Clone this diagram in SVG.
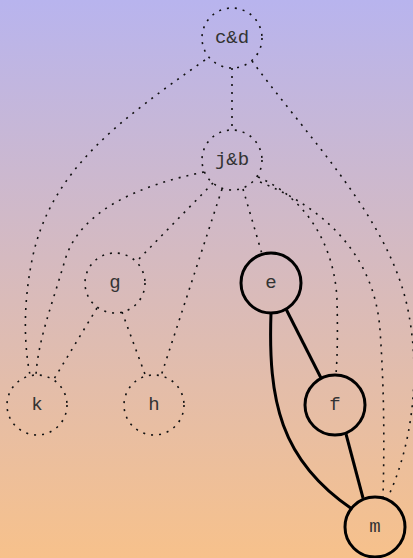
<svg xmlns="http://www.w3.org/2000/svg" width="413" height="558" viewBox="0 0 413 558">
<defs>
<linearGradient id="bg" x1="0" y1="0" x2="0" y2="1">
<stop offset="0" stop-color="#b8b4ee"/>
<stop offset="1" stop-color="#f7c18b"/>
</linearGradient>
<style>
.dn{fill:none;stroke:#111;stroke-width:1.6;stroke-dasharray:2,6}
.sn{fill:none;stroke:#000;stroke-width:3}
.de{fill:none;stroke:#111;stroke-width:1.6;stroke-dasharray:2,6}
.se{fill:none;stroke:#000;stroke-width:3}
text{font-family:"Liberation Mono","Courier New",monospace;font-size:19px;fill:#333;text-anchor:middle;dominant-baseline:central}
</style>
</defs>
<rect width="413" height="558" fill="url(#bg)"/>
<g id="edges">
<path class="de" d="M232,68 L232,130"/>
<path class="de" d="M205,60 C120,120 50,170 32,260 C22,310 25,350 30,375"/>
<path class="de" d="M252,61 C310,140 390,220 408,310 C422,380 410,450 388,497"/>
<path class="de" d="M204,172 C140,185 80,210 65,260 C52,305 38,340 36,375"/>
<path class="de" d="M213,183 L136,262"/>
<path class="de" d="M222,189 L161,376"/>
<path class="de" d="M243,189 L262,254"/>
<path class="de" d="M258,177 C310,200 335,250 337,300 C338,340 337,360 336,375"/>
<path class="de" d="M260,182 C330,210 375,260 380,330 C385,400 384,460 383,497"/>
<path class="de" d="M97,308 L54,379"/>
<path class="de" d="M122,312 L146,377"/>
<path class="se" d="M286,309 L321,378"/>
<path class="se" d="M271,313 C268,400 280,460 352,509"/>
<path class="se" d="M346,434 L363,498"/>
</g>
<g id="node-cd"><circle class="dn" cx="232" cy="38" r="30"/><text x="232" y="38">c&amp;d</text></g>
<g id="node-jb"><circle class="dn" cx="232" cy="160" r="30"/><text x="232" y="160">j&amp;b</text></g>
<g id="node-g"><circle class="dn" cx="115" cy="283" r="30"/><text x="115" y="283">g</text></g>
<g id="node-e"><circle class="sn" cx="271" cy="283" r="30"/><text x="271" y="283">e</text></g>
<g id="node-k"><circle class="dn" cx="37" cy="405" r="30"/><text x="37" y="405">k</text></g>
<g id="node-h"><circle class="dn" cx="154" cy="405" r="30"/><text x="154" y="405">h</text></g>
<g id="node-f"><circle class="sn" cx="335" cy="405" r="30"/><text x="335" y="405">f</text></g>
<g id="node-m"><circle class="sn" cx="375" cy="527" r="30"/><text x="375" y="527">m</text></g>
</svg>
